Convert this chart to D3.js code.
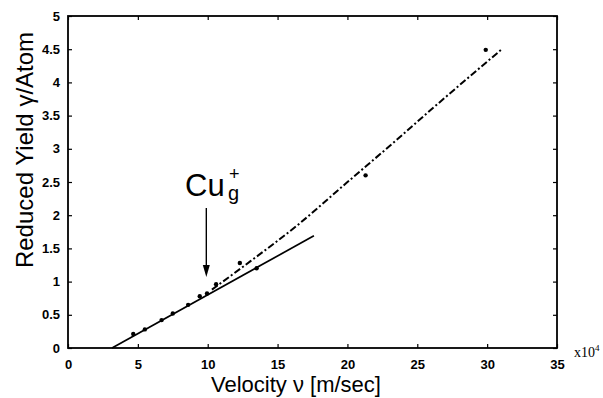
<!DOCTYPE html>
<html><head><meta charset="utf-8">
<script src="https://cdn.jsdelivr.net/npm/d3@7"></script>
<style>body{margin:0;background:#fff}svg{display:block}</style>
</head><body><svg id="c" width="603" height="398"></svg>
<script>
const xTicks = [0,5,10,15,20,25,30,35];
const yTicks = [0,0.5,1,1.5,2,2.5,3,3.5,4,4.5,5];
const yTickLabels = ["0","0.5","1","1.5","2","2.5","3","3.5","4","4.5","5"];
const pointsX = [4.67,5.5,6.7,7.5,8.6,9.43,9.95,10.6,12.3,13.5,21.3,29.9];
const pointsY = [0.21,0.28,0.42,0.52,0.65,0.78,0.82,0.96,1.28,1.2,2.6,4.49];
const solidX = [3.15,17.6];
const solidY = [0,1.69];
const dashX = [10.3,12.5,16.6,19.9,23.5,26.1,31];
const dashY = [0.88,1.22,1.88,2.48,3.13,3.61,4.49];

const svg = d3.select("#c");
const L=68,R=557,T=16,B=348;
const x = d3.scaleLinear().domain([0,35]).range([L,R]);
const y = d3.scaleLinear().domain([0,5]).range([B,T]);
const font = "'Liberation Sans', Arial, sans-serif";

const ax = (gen, tx, ty, labels) => {
  const g = svg.append("g").attr("transform",`translate(${tx},${ty})`).call(gen);
  g.select(".domain").remove();
  g.selectAll("line").attr("stroke","#000").attr("stroke-width",1.2);
  g.selectAll("text").attr("font-family",font).attr("font-size",13).attr("font-weight","bold").attr("fill","#000");
  if(!labels) g.selectAll("text").remove();
  return g;
};
ax(d3.axisBottom(x).tickValues(xTicks).tickSize(-4).tickPadding(12).tickFormat(d3.format("d")),0,B,true);
ax(d3.axisTop(x).tickValues(xTicks).tickSize(-4),0,T,false);
ax(d3.axisLeft(y).tickValues(yTicks).tickSize(-4).tickPadding(8).tickFormat((d,i)=>yTickLabels[i]),L,0,true);
ax(d3.axisRight(y).tickValues(yTicks).tickSize(-4),R,0,false);

svg.append("rect").attr("x",L).attr("y",T).attr("width",R-L).attr("height",B-T)
  .attr("fill","none").attr("stroke","#000").attr("stroke-width",1.8);

const line = d3.line().x(d=>x(d[0])).y(d=>y(d[1]));
svg.append("path").attr("d",line(solidX.map((v,i)=>[v,solidY[i]])))
  .attr("fill","none").attr("stroke","#000").attr("stroke-width",1.7);
svg.append("path").attr("d",line.curve(d3.curveMonotoneX)(dashX.map((v,i)=>[v,dashY[i]])))
  .attr("fill","none").attr("stroke","#000").attr("stroke-width",2)
  .attr("stroke-dasharray","7,2.5,2,2.5");

svg.selectAll("circle.p").data(pointsX).enter().append("circle")
  .attr("cx",d=>x(d)).attr("cy",(d,i)=>y(pointsY[i])).attr("r",2.2).attr("fill","#000");

const ax0 = x(9.9);
svg.append("line").attr("x1",ax0).attr("x2",ax0).attr("y1",208).attr("y2",268)
  .attr("stroke","#000").attr("stroke-width",1.4);
svg.append("path").attr("d",`M${ax0-3.5},265 L${ax0+3.5},265 L${ax0},277 Z`).attr("fill","#000");

svg.append("text").attr("x",185).attr("y",196).attr("font-family",font).attr("font-size",31).attr("fill","#000").text("Cu");
svg.append("text").attr("x",229).attr("y",180).attr("font-family",font).attr("font-size",18).text("+");
svg.append("text").attr("x",228).attr("y",200).attr("font-family",font).attr("font-size",20).text("g");

svg.append("text").attr("x",296).attr("y",392).attr("text-anchor","middle")
  .attr("font-family",font).attr("font-size",22).text("Velocity ν [m/sec]");
svg.append("text").attr("transform","translate(33,150) rotate(-90)").attr("text-anchor","middle")
  .attr("font-family",font).attr("font-size",24).text("Reduced Yield γ/Atom");
const xe = svg.append("text").attr("x",574).attr("y",357).attr("font-family","'Liberation Serif', serif").attr("font-size",14);
xe.append("tspan").text("x10");
xe.append("tspan").attr("dy",-6).attr("font-size",9).text("4");
</script></body></html>
